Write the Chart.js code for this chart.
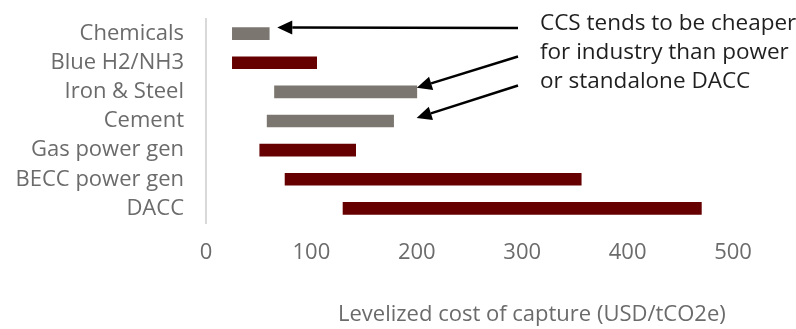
<!DOCTYPE html>
<html>
<head>
<meta charset="utf-8">
<script src="https://cdn.jsdelivr.net/npm/chart.js@4.4.1/dist/chart.umd.min.js"></script>
<style>
  html, body { margin: 0; padding: 0; background: #fff; }
  #wrap { width: 796px; height: 329px; }
</style>
</head>
<body>
<div id="wrap"><canvas id="chart-capture"></canvas></div>
<script>
const sectors = ["Chemicals", "Blue H2/NH3", "Iron & Steel", "Cement", "Gas power gen", "BECC power gen", "DACC"];
const costLow = [25, 25, 65, 58, 51, 75, 130];
const costHigh = [60, 105, 200, 178, 142, 356, 470];
const isIndustry = [true, false, true, true, false, false, false];
const xTicks = [0, 100, 200, 300, 400, 500];
const axisTitle = "Levelized cost of capture (USD/tCO2e)";
const noteLines = ["CCS tends to be cheaper", "for industry than power", "or standalone DACC"];
const noteTargets = ["Chemicals", "Iron & Steel", "Cement"];

const FONT = "'Open Sans', 'Noto Sans', sans-serif";
const GREY_BAR = "#7b7770";
const RED_BAR = "#660000";
const LABEL_GREY = "#6b6b6b";

// arrow tips are offset from the high end of the target bar
const arrowOffsets = [
  { dx: 8, dy: -6 },
  { dx: 0, dy: -4 },
  { dx: 23, dy: -3 },
];

function drawArrow(ctx, x1, y1, x2, y2) {
  const ang = Math.atan2(y2 - y1, x2 - x1);
  const head = 15, half = 7;
  const bx = x2 - head * Math.cos(ang);
  const by = y2 - head * Math.sin(ang);
  ctx.beginPath();
  ctx.moveTo(x1, y1);
  ctx.lineTo(bx, by);
  ctx.stroke();
  ctx.beginPath();
  ctx.moveTo(x2, y2);
  ctx.lineTo(bx + half * Math.sin(ang), by - half * Math.cos(ang));
  ctx.lineTo(bx - half * Math.sin(ang), by + half * Math.cos(ang));
  ctx.closePath();
  ctx.fill();
}

const notePlugin = {
  id: "notes",
  afterDraw(chart) {
    const { ctx, scales } = chart;
    const x = scales.x, y = scales.y;
    ctx.save();

    // x axis title, sits right of centre
    ctx.font = "22px " + FONT;
    ctx.fillStyle = LABEL_GREY;
    ctx.textAlign = "left";
    ctx.textBaseline = "middle";
    ctx.fillText(axisTitle, 338, 315);

    // note text
    ctx.font = "22.5px " + FONT;
    ctx.fillStyle = "#1f1f1f";
    ctx.textBaseline = "alphabetic";
    const textLeft = 540;
    const baselines = [30, 58.5, 87.5];
    noteLines.forEach((line, i) => ctx.fillText(line, textLeft, baselines[i]));

    // arrows from the note to the industry bars
    ctx.strokeStyle = "#000";
    ctx.fillStyle = "#000";
    ctx.lineWidth = 2.5;
    noteTargets.forEach((name, i) => {
      const idx = sectors.indexOf(name);
      const tipX = x.getPixelForValue(costHigh[idx]) + arrowOffsets[i].dx;
      const tipY = y.getPixelForValue(idx) + arrowOffsets[i].dy;
      drawArrow(ctx, textLeft - 22, baselines[i] - 2, tipX, tipY);
    });
    ctx.restore();
  },
};

new Chart(document.getElementById("chart-capture"), {
  type: "bar",
  data: {
    labels: sectors,
    datasets: [
      {
        data: sectors.map((s, i) => [costLow[i], costHigh[i]]),
        backgroundColor: isIndustry.map((v) => (v ? GREY_BAR : RED_BAR)),
        borderWidth: 0,
        borderSkipped: false,
        barThickness: 12,
      },
    ],
  },
  options: {
    indexAxis: "y",
    responsive: true,
    maintainAspectRatio: false,
    animation: false,
    layout: { padding: { left: 0, right: 63, top: 19, bottom: 0 } },
    plugins: {
      legend: { display: false },
      tooltip: { enabled: false },
    },
    scales: {
      x: {
        min: 0,
        max: 500,
        afterBuildTicks(scale) {
          scale.ticks = xTicks.map((v) => ({ value: v }));
        },
        afterFit(scale) {
          scale.height = 106;
          scale.paddingLeft = 0;
          scale.paddingRight = 0;
        },
        grid: { display: false, drawTicks: false },
        border: { display: false },
        ticks: {
          padding: 17,
          color: LABEL_GREY,
          font: { family: FONT, size: 22 },
        },
      },
      y: {
        afterFit(scale) {
          scale.width = 206;
          scale.paddingTop = 0;
          scale.paddingBottom = 0;
        },
        grid: { display: false, drawTicks: false },
        border: { display: true, color: "#d9d9d9", width: 2 },
        ticks: {
          autoSkip: false,
          padding: 22,
          color: LABEL_GREY,
          font: { family: FONT, size: 22 },
        },
      },
    },
  },
  plugins: [notePlugin],
});
</script>
</body>
</html>
